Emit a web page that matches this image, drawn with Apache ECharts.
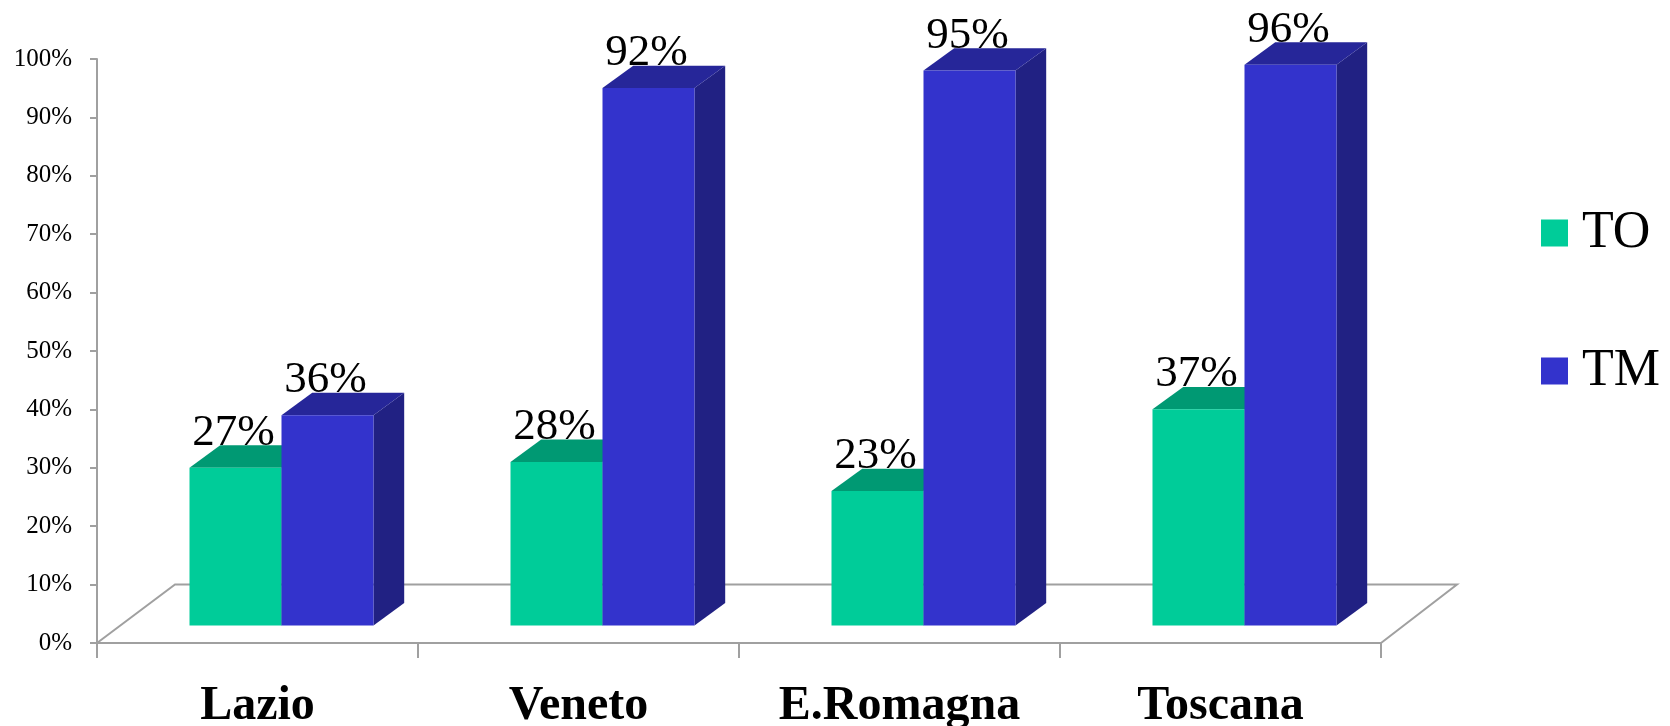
<!DOCTYPE html>
<html>
<head>
<meta charset="utf-8">
<script src="https://cdn.jsdelivr.net/npm/echarts@6/dist/echarts.min.js"></script>
<style>
  html, body { margin: 0; padding: 0; background: #ffffff; }
  #chart { width: 1670px; height: 726px; }
</style>
</head>
<body>
<div id="chart"></div>
<script>
// Regions and their two percentages
const categories = ['Lazio', 'Veneto', 'E.Romagna', 'Toscana'];
const seriesNames = ['TO', 'TM'];
const toValues = [27, 28, 23, 37];
const tmValues = [36, 92, 95, 96];

const SERIF = "'Liberation Serif', 'Times New Roman', serif";
const AXIS_GREY = '#a0a0a0';

// Pseudo-3D geometry (pixels): bars stand part-way back on the floor
const FLOOR_DX = 78, FLOOR_DY = -58.5;      // full floor depth
const SHIFT_DX = 24, SHIFT_DY = -17.6;      // front face of bars relative to axis plane
const BOX_DX = 30.7, BOX_DY = -22.4;        // depth of each bar
const BAR_FRACTION = 0.2866;                // bar width as a share of one category band

const palette = {
  TO: { front: '#00cc99', top: '#009973', side: '#007a5c' },
  TM: { front: '#3333cc', top: '#262699', side: '#212183' }
};

function barRenderer(slot, colors) {
  return function (params, api) {
    const idx = api.value(0);
    const val = api.value(1);
    const band = api.size([1, 0])[0];
    const base = api.coord([idx, 0]);
    const top = api.coord([idx, val]);
    const w = band * BAR_FRACTION;
    const x0 = base[0] + SHIFT_DX + (slot === 0 ? -w : 0);
    const x1 = x0 + w;
    const yb = base[1] + SHIFT_DY;
    const yt = top[1] + SHIFT_DY;
    return {
      type: 'group',
      children: [
        {
          type: 'polygon',
          shape: { points: [[x1, yt], [x1 + BOX_DX, yt + BOX_DY], [x1 + BOX_DX, yb + BOX_DY], [x1, yb]] },
          style: { fill: colors.side }
        },
        {
          type: 'polygon',
          shape: { points: [[x0, yt], [x1, yt], [x1 + BOX_DX, yt + BOX_DY], [x0 + BOX_DX, yt + BOX_DY]] },
          style: { fill: colors.top }
        },
        {
          type: 'rect',
          shape: { x: x0, y: yt, width: w, height: yb - yt },
          style: { fill: colors.front }
        },
        {
          type: 'text',
          z2: 10,
          style: {
            text: val + '%',
            x: (x0 + x1) / 2 - 2,
            y: yt + BOX_DY + 10,
            align: 'center',
            verticalAlign: 'bottom',
            font: '45px ' + SERIF,
            fill: '#000000'
          }
        }
      ]
    };
  };
}

// Floor outline (left, back and right edges; the front edge is the x axis line)
function floorRenderer(params, api) {
  const cs = params.coordSys;
  const yF = cs.y + cs.height;
  const xL = cs.x, xR = cs.x + cs.width;
  return {
    type: 'polyline',
    shape: {
      points: [
        [xL, yF],
        [xL + FLOOR_DX, yF + FLOOR_DY],
        [xR + FLOOR_DX - 2, yF + FLOOR_DY],
        [xR, yF]
      ]
    },
    style: { stroke: AXIS_GREY, lineWidth: 2, fill: null }
  };
}

const chart = echarts.init(document.getElementById('chart'), null, { renderer: 'canvas' });

chart.setOption({
  animation: false,
  backgroundColor: '#ffffff',
  grid: { left: 97, right: 289, top: 59, bottom: 83, containLabel: false, outerBoundsMode: 'none' },
  legend: {
    orient: 'vertical',
    left: 1536,
    top: 202,
    itemWidth: 27,
    itemHeight: 27,
    itemGap: 86,
    icon: 'rect',
    data: seriesNames,
    textStyle: { fontFamily: SERIF, fontSize: 52, color: '#000000', padding: [0, 0, 0, 9] }
  },
  xAxis: {
    type: 'category',
    data: categories,
    axisLine: { show: true, lineStyle: { color: AXIS_GREY, width: 2 } },
    axisTick: { show: true, length: 15, lineStyle: { color: AXIS_GREY, width: 2 } },
    axisLabel: {
      margin: 40,
      fontFamily: SERIF,
      fontWeight: 'bold',
      fontSize: 48,
      color: '#000000'
    },
    splitLine: { show: false }
  },
  yAxis: {
    type: 'value',
    min: 0,
    max: 100,
    interval: 10,
    axisLine: { show: true, lineStyle: { color: AXIS_GREY, width: 2 } },
    axisTick: { show: true, length: 7, lineStyle: { color: AXIS_GREY, width: 2 } },
    axisLabel: {
      formatter: '{value}%',
      margin: 25,
      fontFamily: SERIF,
      fontSize: 25,
      color: '#000000'
    },
    splitLine: { show: false }
  },
  series: [
    {
      name: 'floor',
      type: 'custom',
      silent: true,
      z: 1,
      renderItem: floorRenderer,
      data: [[0, 0]]
    },
    {
      name: 'TO',
      type: 'custom',
      z: 2,
      itemStyle: { color: palette.TO.front },
      renderItem: barRenderer(0, palette.TO),
      encode: { x: 0, y: 1 },
      data: toValues.map((v, i) => [i, v])
    },
    {
      name: 'TM',
      type: 'custom',
      z: 2,
      itemStyle: { color: palette.TM.front },
      renderItem: barRenderer(1, palette.TM),
      encode: { x: 0, y: 1 },
      data: tmValues.map((v, i) => [i, v])
    }
  ]
});
</script>
</body>
</html>
